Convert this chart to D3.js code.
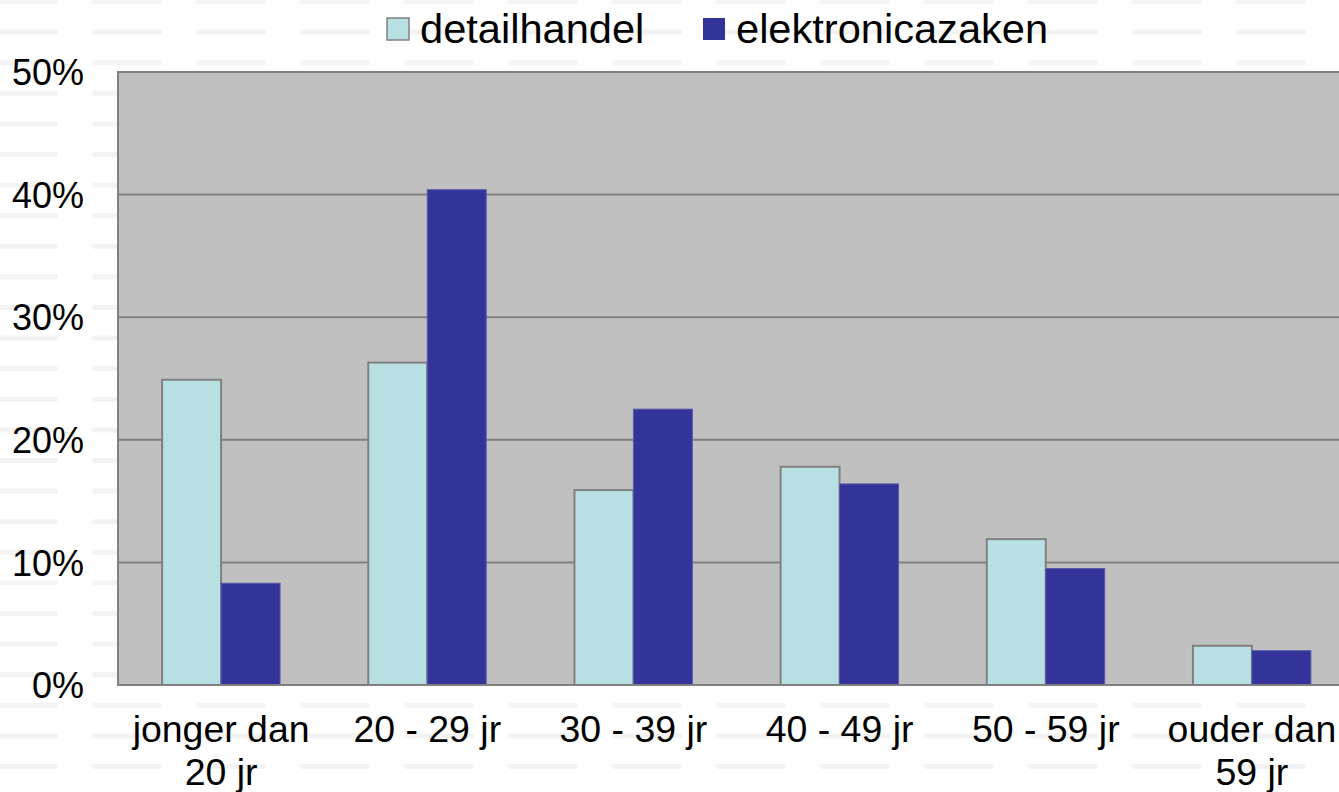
<!DOCTYPE html>
<html>
<head>
<meta charset="utf-8">
<script src="https://cdn.jsdelivr.net/npm/d3@7"></script>
<style>
  html, body { margin: 0; padding: 0; background: #fff; overflow: hidden; }
  svg { display: block; font-family: "Liberation Sans", Arial, sans-serif; }
</style>
</head>
<body>
<svg id="chart" width="1339" height="792"></svg>
<script>
const categories = [["jonger dan", "20 jr"], ["20 - 29 jr"], ["30 - 39 jr"], ["40 - 49 jr"], ["50 - 59 jr"], ["ouder dan", "59 jr"]];
const seriesNames = ["detailhandel", "elektronicazaken"];
const detailhandel = [24.9, 26.3, 15.9, 17.8, 11.9, 3.2];
const elektronicazaken = [8.3, 40.4, 22.5, 16.4, 9.5, 2.8];
const yTicks = [0, 10, 20, 30, 40, 50];

const seriesValues = [detailhandel, elektronicazaken];
const colors = ["#B8DFE2", "#333399"];
const strokes = ["#808080", "#5a5aa8"];

const svg = d3.select("#chart");
const W = 1339, H = 792;

// faint background dash pattern
const defs = svg.append("defs");
const pat = defs.append("pattern").attr("id", "bgdash")
  .attr("patternUnits", "userSpaceOnUse")
  .attr("x", -12).attr("y", -1)
  .attr("width", 104).attr("height", 30.6);
pat.append("rect").attr("x", 0).attr("y", 0).attr("width", 70).attr("height", 5)
  .attr("rx", 2.5).attr("fill", "#f3f3f3");
svg.append("rect").attr("width", W).attr("height", H).attr("fill", "url(#bgdash)");

const plot = { left: 118, right: 1355, top: 72, bottom: 685 };
const catKeys = categories.map(c => c.join(" "));

const x0 = d3.scaleBand().domain(catKeys).range([plot.left, plot.right])
  .paddingInner(0.428).paddingOuter(0.214);
const x1 = d3.scaleBand().domain(seriesNames).range([0, x0.bandwidth()]);
const y = d3.scaleLinear().domain([0, 50]).range([plot.bottom, plot.top]);

// plot area
svg.append("rect")
  .attr("x", plot.left).attr("y", plot.top)
  .attr("width", plot.right - plot.left).attr("height", plot.bottom - plot.top)
  .attr("fill", "#C0C0C0").attr("stroke", "#808080").attr("stroke-width", 2);

// gridlines
svg.append("g").selectAll("line").data(yTicks.filter(t => t > 0 && t < 50)).join("line")
  .attr("x1", plot.left).attr("x2", plot.right)
  .attr("y1", d => y(d)).attr("y2", d => y(d))
  .attr("stroke", "#808080").attr("stroke-width", 2);

// bars
const groups = svg.append("g").selectAll("g").data(catKeys).join("g")
  .attr("transform", d => `translate(${x0(d)},0)`);
groups.selectAll("rect").data((d, i) => seriesNames.map((s, j) => ({ s, j, v: seriesValues[j][i] })))
  .join("rect")
  .attr("x", d => x1(d.s))
  .attr("width", x1.bandwidth())
  .attr("y", d => y(d.v))
  .attr("height", d => y(0) - y(d.v))
  .attr("fill", d => colors[d.j])
  .attr("stroke", d => strokes[d.j])
  .attr("stroke-width", d => d.j === 0 ? 2 : 1);

// baseline
svg.append("line").attr("x1", plot.left).attr("x2", plot.right)
  .attr("y1", y(0)).attr("y2", y(0)).attr("stroke", "#808080").attr("stroke-width", 2);

// y axis
const yAxis = d3.axisLeft(y).tickValues(yTicks).tickSize(0).tickPadding(0)
  .tickFormat(d => d + "%");
const ya = svg.append("g").attr("transform", `translate(84,0)`).call(yAxis);
ya.select(".domain").remove();
ya.selectAll("text").attr("font-size", 36).attr("fill", "#000")
  .attr("font-family", "Liberation Sans, Arial, sans-serif").attr("dy", "0.35em");

// x labels
const xl = svg.append("g").selectAll("g").data(categories).join("g")
  .attr("transform", (d, i) => `translate(${x0(catKeys[i]) + x0.bandwidth() / 2},742) scale(1.04,1)`);
xl.selectAll("text").data(d => d).join("text")
  .attr("x", 0).attr("y", (d, i) => i * 43)
  .attr("text-anchor", "middle").attr("font-size", 36).attr("fill", "#000")
  .text(d => d);

// legend
const legendX = [387, 703];
const leg = svg.append("g").selectAll("g").data(seriesNames).join("g");
leg.append("rect")
  .attr("x", (d, i) => legendX[i]).attr("y", 18)
  .attr("width", 22).attr("height", 22)
  .attr("fill", (d, i) => colors[i])
  .attr("stroke", (d, i) => i === 0 ? "#808080" : "none").attr("stroke-width", 1.5);
leg.append("text")
  .attr("transform", (d, i) => `translate(${legendX[i] + 33},43) scale(1.04,1)`)
  .attr("font-size", 40).attr("fill", "#000")
  .text(d => d);
</script>
</body>
</html>
